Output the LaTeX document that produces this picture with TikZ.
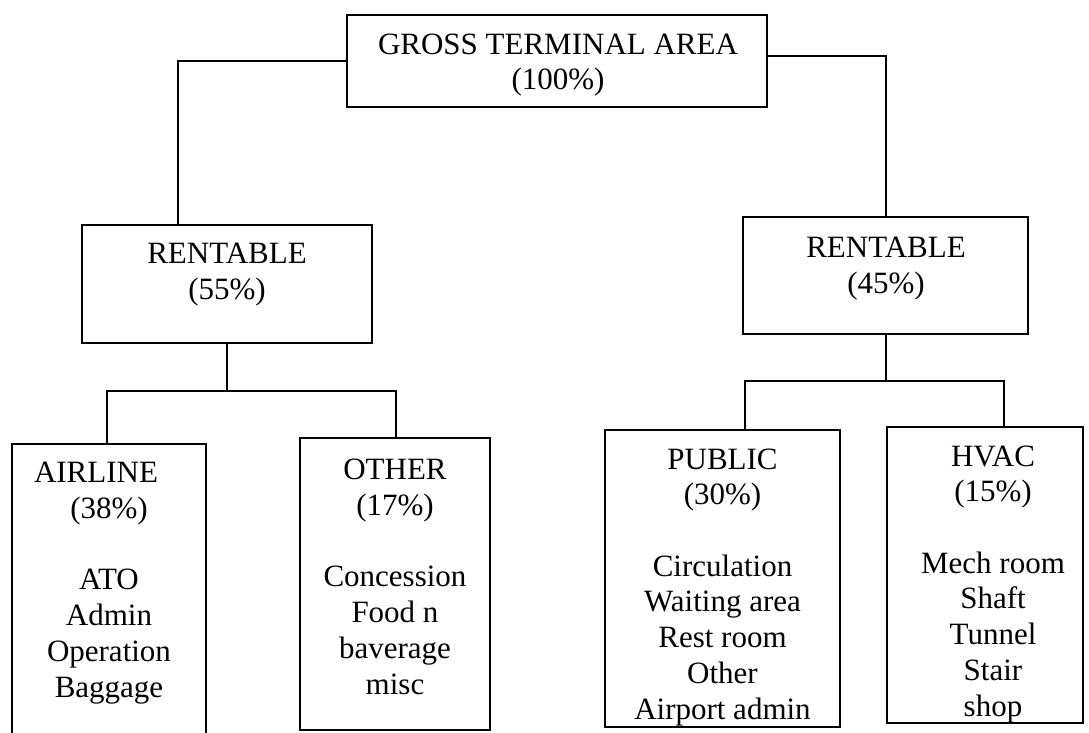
\documentclass[tikz,border=0pt]{standalone}
\usepackage{fontspec}
\setmainfont{Liberation Serif}
\begin{document}
\begin{tikzpicture}[x=1pt,y=-1pt,
  box/.style={draw, line width=2pt, inner sep=0pt},
  txt/.style={align=center, inner sep=0pt, anchor=base,
              font=\fontsize{31}{35.7}\selectfont},
  link/.style={line width=2pt}]
\useasboundingbox (0,0) rectangle (1089,733);

% frames
\node[box, minimum width=420pt, minimum height=92pt]  (top)     at (557,61)    {};
\node[box, minimum width=290pt, minimum height=118pt] (lrent)   at (227,284)   {};
\node[box, minimum width=285pt, minimum height=117pt] (rrent)   at (885.5,275.5) {};
\node[box, minimum width=194pt, minimum height=300pt] (airline) at (109,594)   {};
\node[box, minimum width=190pt, minimum height=292pt] (other)   at (395,584)   {};
\node[box, minimum width=235pt, minimum height=297pt] (public)  at (722.5,578.5) {};
\node[box, minimum width=196pt, minimum height=296pt] (hvac)    at (985,575)   {};

% texts (anchored on the baseline of the last line)
\node[txt] (toptext) at (558,90) {GROSS TERMINAL AREA\\(100\%)};
\node[txt] (ltext) at (227,299) {RENTABLE\\(55\%)};
\node[txt] (rtext) at (886,293) {RENTABLE\\(45\%)};
\node[txt] (atext) at (109,697) {AIRLINE\hspace*{26pt}\\(38\%)\\[35.7pt]ATO\\Admin\\Operation\\Baggage};
\node[txt] (otext) at (395,694) {OTHER\\(17\%)\\[35.7pt]Concession\\Food n\\baverage\\misc};
\node[txt] (ptext) at (722.5,719) {PUBLIC\\(30\%)\\[35.7pt]Circulation\\Waiting area\\Rest room\\Other\\Airport admin};
\node[txt] (htext) at (993,716) {HVAC\\(15\%)\\[35.7pt]Mech room\\Shaft\\Tunnel\\Stair\\shop};

% connectors
\coordinate (lj) at ([yshift=-47pt]lrent.south);
\coordinate (rj) at ([yshift=-46pt]rrent.south);
\draw[link] (top.west) -| ([xshift=-49pt]lrent.north);
\draw[link] ([yshift=5pt]top.east) -| (rrent.north);
\draw[link] (lrent.south) -- (lj);
\draw[link] ([xshift=-2pt]airline.north) |- (lj) -| ([xshift=1pt]other.north);
\draw[link] (rrent.south) -- (rj);
\draw[link] ([xshift=22.5pt]public.north) |- (rj) -| ([xshift=19pt]hvac.north);
\end{tikzpicture}
\end{document}
